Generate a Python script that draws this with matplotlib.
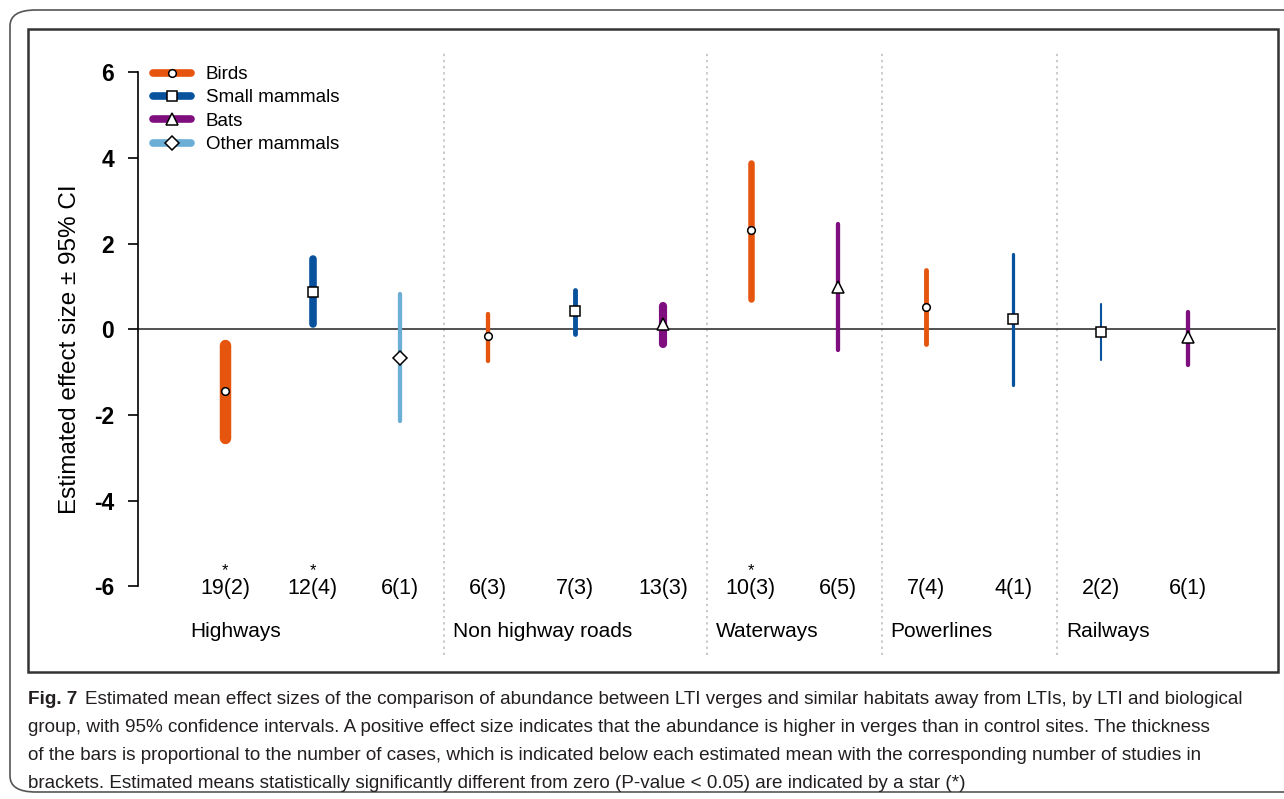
import matplotlib
matplotlib.use("Agg")
import matplotlib.pyplot as plt
from matplotlib.lines import Line2D
from matplotlib.patches import FancyBboxPatch, Rectangle

# data
groups = ["Birds", "Small mammals", "Bats", "Other mammals"]
group_colors = ["#e6550d", "#08519c", "#7f0f7e", "#6baed6"]
group_markers = ["o", "s", "^", "D"]
group_msize = [5.5, 7.5, 9, 7.5]

lti_names = ["Highways", "Non highway roads", "Waterways", "Powerlines", "Railways"]
lti_sizes = [3, 3, 2, 2, 2]

bio_group = ["Birds", "Small mammals", "Other mammals",
             "Birds", "Small mammals", "Bats",
             "Birds", "Bats",
             "Birds", "Small mammals",
             "Small mammals", "Bats"]
est_mean = [-1.44, 0.88, -0.67, -0.15, 0.43, 0.13, 2.31, 0.98, 0.53, 0.24, -0.05, -0.18]
ci_low = [-2.53, 0.13, -2.14, -0.73, -0.10, -0.35, 0.72, -0.48, -0.34, -1.31, -0.72, -0.84]
ci_high = [-0.36, 1.65, 0.83, 0.37, 0.93, 0.54, 3.88, 2.47, 1.38, 1.75, 0.60, 0.40]
n_cases = [19, 12, 6, 6, 7, 13, 10, 6, 7, 4, 2, 6]
n_studies = [2, 4, 1, 3, 3, 3, 3, 5, 4, 1, 2, 1]
significant = [True, True, False, False, False, False, True, False, False, False, False, False]

caption_lines = [
    "Estimated mean effect sizes of the comparison of abundance between LTI verges and similar habitats away from LTIs, by LTI and biological",
    "group, with 95% confidence intervals. A positive effect size indicates that the abundance is higher in verges than in control sites. The thickness",
    "of the bars is proportional to the number of cases, which is indicated below each estimated mean with the corresponding number of studies in",
    "brackets. Estimated means statistically significantly different from zero (P-value < 0.05) are indicated by a star (*)",
]

W, H = 1284, 799
fig = plt.figure(figsize=(W / 100, H / 100), dpi=100)
plt.rcParams["font.family"] = ["Liberation Sans", "DejaVu Sans"]

# outer frame and inner box (figure pixels)
fig.patches.append(FancyBboxPatch((10 / W, 1 - 792 / H), 1300 / W, 782 / H,
                                  boxstyle="round,pad=0,rounding_size=0.02",
                                  transform=fig.transFigure, fill=False,
                                  edgecolor="#555555", lw=1.2))
fig.patches.append(Rectangle((28 / W, 1 - 672 / H), 1250 / W, 643 / H,
                             transform=fig.transFigure, fill=False,
                             edgecolor="#333333", lw=1.8))

ax = fig.add_axes([137.5 / W, 1 - 655 / H, (1276 - 137.5) / W, 605 / H])
ax.set_xlim(0, 13)
ax.set_ylim(-7.6, 6.52)
ax.patch.set_alpha(0)
for s in ["top", "right", "bottom"]:
    ax.spines[s].set_visible(False)
ax.spines["left"].set_bounds(-6, 6)
ax.spines["left"].set_linewidth(1.2)
ax.set_xticks([])
ax.set_yticks(range(-6, 7, 2))
ax.set_yticklabels([str(v) for v in range(-6, 7, 2)], fontsize=16.5, fontweight="semibold")
ax.tick_params(axis="y", length=7, width=1.2, pad=10)

ax.axhline(0, color="#333333", lw=1.2, zorder=1)

# separators between LTIs
edges = [0.5]
for n in lti_sizes:
    edges.append(edges[-1] + n)
for e in edges[1:-1]:
    ax.axvline(e, color="#bbbbbb", lw=1.1, ls=(0, (1.5, 2.5)), zorder=0)
for name, e in zip(lti_names, edges[:-1]):
    ax.text(e + 0.1, -7.06, name, fontsize=15, ha="left", va="center")

# bars (thickness ~ number of cases) and means
for i in range(len(est_mean)):
    x = i + 1
    g = groups.index(bio_group[i])
    ax.plot([x, x], [ci_low[i], ci_high[i]], color=group_colors[g],
            lw=(n_cases[i] * 0.55 + 1) * 0.72, solid_capstyle="round", zorder=2)
    ax.plot(x, est_mean[i], marker=group_markers[g], ms=group_msize[g],
            mfc="white", mec="black", mew=1.1, zorder=3)
    ax.text(x, -6.04, f"{n_cases[i]}({n_studies[i]})", fontsize=15.5,
            ha="center", va="center")
    if significant[i]:
        ax.text(x, -5.62, "*", fontsize=12, ha="center", va="center")

ax.text(70 / W, 1 - 349 / H, "Estimated effect size \u00b1 95% CI", transform=fig.transFigure,
        rotation=90, fontsize=17.5, ha="center", va="center")

handles = [Line2D([0], [0], color=c, lw=5.5, solid_capstyle="round", marker=m,
                  ms=ms, mfc="white", mec="black", mew=1.1)
           for c, m, ms in zip(group_colors, group_markers, group_msize)]
ax.legend(handles, groups, loc="upper left", bbox_to_anchor=(153 / W, 1 - 66 / H),
          bbox_transform=fig.transFigure, frameon=False, fontsize=13.5,
          handlelength=2.0, handletextpad=0.8, labelspacing=0.33, borderpad=0,
          borderaxespad=0)

# caption
y0 = 699
for k, line in enumerate(caption_lines):
    y = 1 - (y0 + 28 * k) / H
    if k == 0:
        t = fig.text(28 / W, y, "Fig. 7", fontsize=13.6, fontweight="bold",
                     color="#231f20", va="center", ha="left")
        fig.canvas.draw()
        bb = t.get_window_extent()
        fig.text(bb.x1 / W + 8 / W, y, line, fontsize=13.6,
                 color="#231f20", va="center", ha="left")
    else:
        fig.text(28 / W, y, line, fontsize=13.6,
                 color="#231f20", va="center", ha="left")

fig.savefig("out.png", dpi=100)
